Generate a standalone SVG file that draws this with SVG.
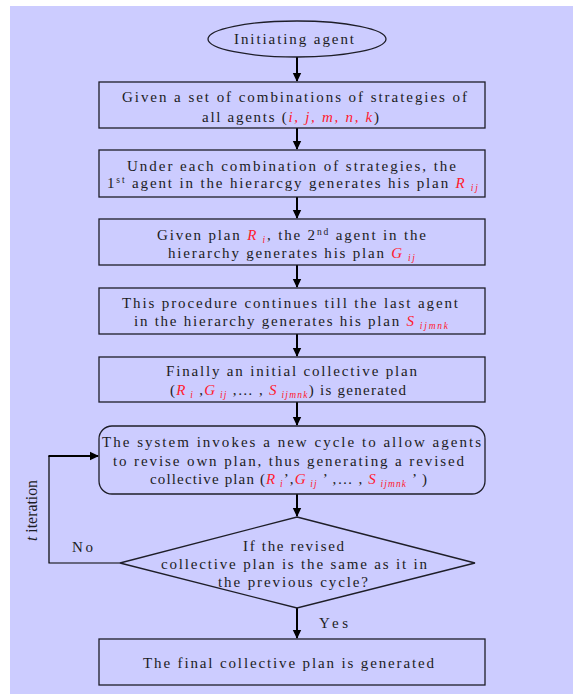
<svg xmlns="http://www.w3.org/2000/svg" width="573" height="694" viewBox="0 0 573 694">
<style>
.bg{fill:#ccccff}
.box{fill:none;stroke:#1e1e28;stroke-width:1.3}
.t{font-family:"Liberation Serif","Times New Roman",serif;font-size:15px;fill:#1c1c24}
.v{fill:#ff1a2e;font-style:italic}
.sub{fill:#ff1a2e;font-style:italic;font-size:9.5px}
.sup{font-size:9.5px}
.ar{fill:none;stroke:#000;stroke-width:2}
.thin{fill:none;stroke:#000;stroke-width:1.2}
</style>
<defs>
<marker id="ah" markerWidth="10" markerHeight="10" refX="8" refY="5" orient="auto" markerUnits="userSpaceOnUse">
<path d="M0,0.8 L9,5 L0,9.2 Z" fill="#000"/>
</marker>
</defs>
<rect class="bg" x="10" y="6" width="563" height="688"/>

<g id="connectors">
<line class="ar" x1="297" y1="57" x2="297" y2="81" marker-end="url(#ah)"/>
<line class="ar" x1="297" y1="128" x2="297" y2="149" marker-end="url(#ah)"/>
<line class="ar" x1="297" y1="197" x2="297" y2="218" marker-end="url(#ah)"/>
<line class="ar" x1="297" y1="265" x2="297" y2="287" marker-end="url(#ah)"/>
<line class="ar" x1="297" y1="334" x2="297" y2="356" marker-end="url(#ah)"/>
<line class="ar" x1="297" y1="402" x2="297" y2="425" marker-end="url(#ah)"/>
<line class="ar" x1="297" y1="494" x2="297" y2="516" marker-end="url(#ah)"/>
<line class="ar" x1="297" y1="608" x2="297" y2="638" marker-end="url(#ah)"/>
<polyline class="thin" points="120,563 49,563 49,456"/>
<line class="ar" x1="48.4" y1="456" x2="98" y2="456" marker-end="url(#ah)"/>
<text class="t" x="72" y="552" textLength="21" lengthAdjust="spacing">No</text>
<text class="t" x="319" y="628" textLength="29" lengthAdjust="spacing">Yes</text>
<text class="t" style="font-size:16.5px" transform="translate(37,541) rotate(-90)" x="0" y="0" textLength="61" lengthAdjust="spacingAndGlyphs"><tspan font-style="italic">t</tspan> iteration</text>
</g>

<g id="start">
<ellipse class="box" cx="297" cy="39" rx="89" ry="18"/>
<text class="t" x="234" y="44" textLength="120" lengthAdjust="spacing">Initiating agent</text>
</g>

<g id="combinations">
<rect class="box" x="99" y="82" width="386" height="46"/>
<text class="t" x="122" y="102" textLength="345" lengthAdjust="spacing">Given a set of combinations of strategies of</text>
<text class="t" x="202" y="122" textLength="177" lengthAdjust="spacing">all agents (<tspan class="v">i, j, m, n, k</tspan>)</text>
</g>

<g id="first-agent">
<rect class="box" x="99" y="150" width="386" height="47"/>
<text class="t" x="127" y="171" textLength="329" lengthAdjust="spacing">Under each combination of strategies, the</text>
<text class="t" x="107" y="188" textLength="371" lengthAdjust="spacing">1<tspan class="sup" dy="-5">st</tspan><tspan dy="5">  agent in the hierarcgy generates his plan </tspan><tspan class="v">R</tspan><tspan class="sub" dy="3"> ij</tspan></text>
</g>

<g id="second-agent">
<rect class="box" x="99" y="219" width="386" height="46"/>
<text class="t" x="157" y="240" textLength="269" lengthAdjust="spacing">Given plan <tspan class="v">R</tspan><tspan class="sub" dy="3"> i</tspan><tspan dy="-3">, the 2</tspan><tspan class="sup" dy="-5">nd</tspan><tspan dy="5"> agent in the</tspan></text>
<text class="t" x="168" y="258" textLength="247" lengthAdjust="spacing">hierarchy generates his plan <tspan class="v">G</tspan><tspan class="sub" dy="3"> ij</tspan></text>
</g>

<g id="last-agent">
<rect class="box" x="99" y="288" width="386" height="46"/>
<text class="t" x="122" y="308" textLength="336" lengthAdjust="spacing">This procedure continues till the last agent</text>
<text class="t" x="134" y="326" textLength="314" lengthAdjust="spacing">in the hierarchy generates his plan <tspan class="v">S</tspan><tspan class="sub" dy="3"> ijmnk</tspan></text>
</g>

<g id="initial-plan">
<rect class="box" x="99" y="357" width="386" height="45"/>
<text class="t" x="166" y="376" textLength="251" lengthAdjust="spacing">Finally an initial collective plan</text>
<text class="t" x="170" y="395" textLength="236" lengthAdjust="spacing">(<tspan class="v">R</tspan><tspan class="sub" dy="3"> i</tspan><tspan dy="-3"> ,</tspan><tspan class="v">G</tspan><tspan class="sub" dy="3"> ij</tspan><tspan dy="-3"> ,… , </tspan><tspan class="v">S</tspan><tspan class="sub" dy="3"> ijmnk</tspan><tspan dy="-3">) is generated</tspan></text>
</g>

<g id="revise-cycle">
<rect class="box" x="99" y="426" width="386" height="68" rx="13" ry="13"/>
<text class="t" x="102" y="447" textLength="379" lengthAdjust="spacing">The system invokes a new cycle to allow agents</text>
<text class="t" x="113" y="466" textLength="351" lengthAdjust="spacing">to revise own plan, thus generating a revised</text>
<text class="t" x="150" y="484" textLength="277" lengthAdjust="spacing">collective plan (<tspan class="v">R</tspan><tspan class="sub" dy="3"> i</tspan><tspan dy="-3">’,</tspan><tspan class="v">G</tspan><tspan class="sub" dy="3"> ij</tspan><tspan dy="-3"> ’ ,… , </tspan><tspan class="v">S</tspan><tspan class="sub" dy="3"> ijmnk</tspan><tspan dy="-3"> ’ )</tspan></text>
</g>

<g id="decision">
<polygon class="box" points="297,517 475,563 297,608 120,563"/>
<text class="t" x="243" y="551" textLength="101" lengthAdjust="spacing">If the revised</text>
<text class="t" x="161" y="569" textLength="266" lengthAdjust="spacing">collective plan is the same as it in</text>
<text class="t" x="218" y="587" textLength="150" lengthAdjust="spacing">the previous cycle?</text>
</g>

<g id="final-plan">
<rect class="box" x="99" y="639" width="386" height="46"/>
<text class="t" x="143" y="668" textLength="291" lengthAdjust="spacing">The final collective plan is generated</text>
</g>
</svg>
